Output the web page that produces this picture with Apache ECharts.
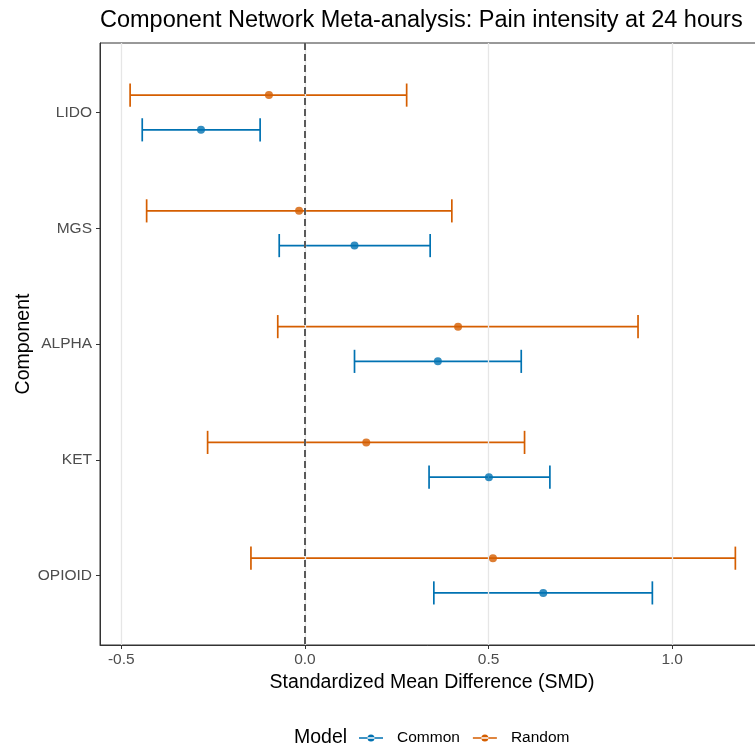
<!DOCTYPE html>
<html>
<head>
<meta charset="utf-8">
<script src="https://cdn.jsdelivr.net/npm/echarts@6/dist/echarts.min.js"></script>
<style>
html,body{margin:0;padding:0;background:#fff;}
#chart{width:755px;height:749px;}
</style>
</head>
<body>
<div id="chart"></div>
<script>
const categories = ['LIDO', 'MGS', 'ALPHA', 'KET', 'OPIOID'];
const commonEst = [-0.283, 0.135, 0.362, 0.501, 0.649];
const commonLo  = [-0.443, -0.070, 0.135, 0.338, 0.351];
const commonHi  = [-0.122, 0.341, 0.589, 0.667, 0.946];
const randomEst = [-0.098, -0.016, 0.417, 0.167, 0.512];
const randomLo  = [-0.476, -0.431, -0.074, -0.265, -0.147];
const randomHi  = [0.277, 0.400, 0.907, 0.598, 1.172];
const xTicks = [-0.5, 0.0, 0.5, 1.0];

const COMMON = '#0072B2';
const RANDOM = '#D55E00';
const FONT = '"Liberation Sans", Arial, sans-serif';
const DODGE = 0.15;
const CAP = 0.1;

function barData(lo, hi, off) {
  return categories.map((c, i) => [lo[i], hi[i], i + off]);
}
function pointData(est, off) {
  return categories.map((c, i) => [est[i], i + off]);
}
function renderBar(color) {
  return function (params, api) {
    const lo = api.value(0), hi = api.value(1), y = api.value(2);
    const p1 = api.coord([lo, y]);
    const p2 = api.coord([hi, y]);
    const h = Math.abs(api.size([0, CAP])[1]);
    const style = { stroke: color, lineWidth: 1.7 };
    return {
      type: 'group',
      children: [
        { type: 'line', shape: { x1: p1[0], y1: p1[1], x2: p2[0], y2: p2[1] }, style },
        { type: 'line', shape: { x1: p1[0], y1: p1[1] - h, x2: p1[0], y2: p1[1] + h }, style },
        { type: 'line', shape: { x1: p2[0], y1: p2[1] - h, x2: p2[0], y2: p2[1] + h }, style }
      ]
    };
  };
}

const legendIcon = 'path://M0,3.2 L24,3.2 L24,4.8 L0,4.8 Z M8.5,4 A3.5,3.5 0 1 0 15.5,4 A3.5,3.5 0 1 0 8.5,4 Z';

const chart = echarts.init(document.getElementById('chart'), null, { renderer: 'canvas' });
chart.setOption({
  backgroundColor: '#ffffff',
  animation: false,
  textStyle: { fontFamily: FONT },
  title: [
    {
      text: 'Component Network Meta-analysis: Pain intensity at 24 hours',
      left: 100, top: 9, padding: 0,
      textStyle: { fontSize: 23.5, fontWeight: 'normal', color: '#000', fontFamily: FONT }
    },
    {
      text: 'Model',
      left: 294, top: 728, padding: 0,
      textStyle: { fontSize: 19.5, fontWeight: 'normal', color: '#000', fontFamily: FONT }
    }
  ],
  legend: {
    left: 359, top: 730, padding: 0,
    itemWidth: 24, itemHeight: 7, itemGap: 13,
    textStyle: { fontSize: 15.5, color: '#000', fontFamily: FONT, padding: [0, 0, 0, 9] },
    data: [
      { name: 'Common', icon: legendIcon },
      { name: 'Random', icon: legendIcon }
    ]
  },
  grid: {
    left: 100, top: 43, width: 664, height: 602,
    containLabel: false, outerBoundsMode: 'none',
    show: true, borderColor: '#333333', borderWidth: 1, backgroundColor: 'transparent'
  },
  xAxis: {
    type: 'value',
    min: -0.558, max: 1.25,
    name: 'Standardized Mean Difference (SMD)',
    nameLocation: 'middle', nameGap: 28,
    nameTextStyle: { fontSize: 19.5, color: '#000', fontFamily: FONT },
    axisLine: { show: true, onZero: false, lineStyle: { color: '#333333', width: 1 } },
    axisTick: { show: true, customValues: xTicks, length: 4, lineStyle: { color: '#333333' } },
    axisLabel: {
      customValues: xTicks, margin: 7,
      formatter: v => v.toFixed(1),
      fontSize: 15.5, color: '#4D4D4D', fontFamily: FONT
    },
    splitLine: { show: false }
  },
  yAxis: {
    type: 'value',
    inverse: true,
    min: -0.6, max: 4.6,
    name: 'Component',
    nameLocation: 'middle', nameGap: 66, nameRotate: 90, nameMoveOverlap: false,
    nameTextStyle: { fontSize: 19.5, color: '#000', fontFamily: FONT },
    axisLine: { show: true, onZero: false, lineStyle: { color: '#333333', width: 1 } },
    axisTick: { show: true, customValues: [0, 1, 2, 3, 4], length: 4, lineStyle: { color: '#333333' } },
    axisLabel: {
      customValues: [0, 1, 2, 3, 4], margin: 8,
      formatter: v => categories[Math.round(v)] || '',
      fontSize: 15.5, color: '#4D4D4D', fontFamily: FONT
    },
    splitLine: { show: false }
  },
  series: [
    {
      type: 'line', name: 'grid', data: [], z: 1, silent: true,
      markLine: {
        silent: true, symbol: 'none', animation: false,
        label: { show: false },
        lineStyle: { color: '#E6E6E6', width: 1.3, type: 'solid' },
        data: xTicks.map(v => ({ xAxis: v }))
      }
    },
    {
      type: 'custom', name: 'Common', z: 3,
      renderItem: renderBar(COMMON),
      itemStyle: { color: COMMON },
      encode: { x: [0, 1], y: 2 },
      data: barData(commonLo, commonHi, DODGE)
    },
    {
      type: 'custom', name: 'Random', z: 3,
      renderItem: renderBar(RANDOM),
      itemStyle: { color: RANDOM },
      encode: { x: [0, 1], y: 2 },
      data: barData(randomLo, randomHi, -DODGE)
    },
    {
      type: 'line', name: 'zero', data: [], z: 4, silent: true,
      markLine: {
        silent: true, symbol: 'none', animation: false,
        label: { show: false },
        lineStyle: { color: '#5A5A5A', width: 2, type: [7, 4] },
        data: [{ xAxis: 0 }]
      }
    },
    {
      type: 'scatter', name: 'Common', z: 5,
      symbol: 'circle', symbolSize: 8,
      itemStyle: { color: COMMON },
      data: pointData(commonEst, DODGE)
    },
    {
      type: 'scatter', name: 'Random', z: 5,
      symbol: 'circle', symbolSize: 8,
      itemStyle: { color: RANDOM },
      data: pointData(randomEst, -DODGE)
    }
  ]
});
</script>
</body>
</html>
